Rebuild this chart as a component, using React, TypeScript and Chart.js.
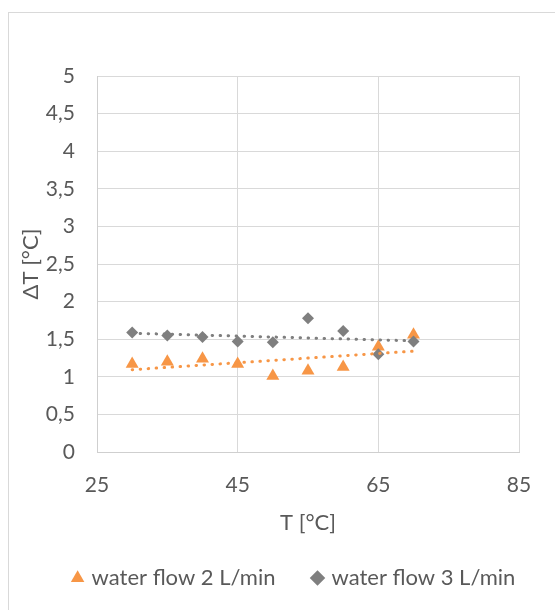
import React, { useEffect, useRef } from "react";
import { Chart, registerables } from "chart.js";

Chart.register(...registerables);

const temperatures = [30, 35, 40, 45, 50, 55, 60, 65, 70];
const flow2DeltaT = [1.17, 1.2, 1.24, 1.17, 1.01, 1.08, 1.13, 1.4, 1.56];
const flow3DeltaT = [1.59, 1.55, 1.53, 1.47, 1.46, 1.78, 1.61, 1.3, 1.47];
const seriesLabels = ["water flow 2 L/min", "water flow 3 L/min"];
const xAxisTitle = "T [°C]";
const yAxisTitle = "ΔT [°C]";
const xMin = 25;
const xMax = 85;
const xStep = 20;
const yMin = 0;
const yMax = 5;
const yStep = 0.5;

const ORANGE = "#F79646";
const GRAY = "#7F7F7F";
const TEXT = "#595959";
const GRID = "#D9D9D9";
const FONT = "Lato, 'Open Sans', sans-serif";

const W = 555;
const H = 610;
const PAD_L = 35;
const PAD_R = 0;
const PAD_T = 76;
const PAD_B = 11;
const AREA_LEFT = 97;
const AREA_RIGHT = 519;
const AREA_BOTTOM = 452;
const TICK_FS = 21;
const TITLE_FS = 22;
const LEG_FS = 22;
const LEG_PAD = 39;

function linearTrend(xs: number[], ys: number[]) {
  const n = xs.length;
  const mx = xs.reduce((a, b) => a + b, 0) / n;
  const my = ys.reduce((a, b) => a + b, 0) / n;
  let sxy = 0;
  let sxx = 0;
  for (let i = 0; i < n; i++) {
    sxy += (xs[i] - mx) * (ys[i] - my);
    sxx += (xs[i] - mx) * (xs[i] - mx);
  }
  const slope = sxy / sxx;
  const x0 = Math.min(...xs);
  const x1 = Math.max(...xs);
  return [
    { x: x0, y: my + slope * (x0 - mx) },
    { x: x1, y: my + slope * (x1 - mx) },
  ];
}

const toPoints = (xs: number[], ys: number[]) => xs.map((x, i) => ({ x, y: ys[i] }));

const frame = {
  id: "frame",
  beforeDraw(chart: any) {
    const ctx = chart.ctx;
    ctx.save();
    ctx.fillStyle = "#FFFFFF";
    ctx.fillRect(0, 0, chart.width, chart.height);
    ctx.strokeStyle = GRID;
    ctx.lineWidth = 1;
    ctx.strokeRect(8.5, 12.5, 600, 700);
    ctx.restore();
  },
};

export default function App() {
  const ref = useRef<HTMLCanvasElement | null>(null);

  useEffect(() => {
    if (!ref.current) return;
    const titleLH = TITLE_FS * 1.2;
    const chart = new Chart(ref.current, {
      type: "scatter",
      data: {
        datasets: [
          {
            label: seriesLabels[0],
            data: toPoints(temperatures, flow2DeltaT),
            pointStyle: "triangle",
            pointRadius: 7.5,
            pointHoverRadius: 7.5,
            backgroundColor: ORANGE,
            borderColor: ORANGE,
            borderWidth: 0,
            showLine: false,
            order: 2,
          },
          {
            label: seriesLabels[1],
            data: toPoints(temperatures, flow3DeltaT),
            pointStyle: "rectRot",
            pointRadius: 6,
            pointHoverRadius: 6,
            backgroundColor: GRAY,
            borderColor: GRAY,
            borderWidth: 0,
            showLine: false,
            order: 1,
          },
          {
            label: "trend2",
            data: linearTrend(temperatures, flow2DeltaT),
            showLine: true,
            borderColor: ORANGE,
            backgroundColor: ORANGE,
            borderWidth: 3,
            borderDash: [0.5, 7.5],
            borderCapStyle: "round",
            pointRadius: 0,
            fill: false,
            order: 0,
          },
          {
            label: "trend3",
            data: linearTrend(temperatures, flow3DeltaT),
            showLine: true,
            borderColor: GRAY,
            backgroundColor: GRAY,
            borderWidth: 3,
            borderDash: [0.5, 7.5],
            borderCapStyle: "round",
            pointRadius: 0,
            fill: false,
            order: 0,
          },
        ] as any,
      },
      options: {
        responsive: false,
        animation: false,
        devicePixelRatio: 1,
        layout: { padding: { left: PAD_L, right: PAD_R, top: PAD_T, bottom: PAD_B } },
        plugins: {
          tooltip: { enabled: false },
          legend: {
            position: "bottom",
            labels: {
              usePointStyle: true,
              boxWidth: 6,
              boxHeight: 11,
              padding: LEG_PAD,
              color: TEXT,
              font: { family: FONT, size: LEG_FS },
              filter: (item: any) => item.datasetIndex < 2,
              sort: (a: any, b: any) => a.datasetIndex - b.datasetIndex,
            },
          },
        },
        scales: {
          x: {
            type: "linear",
            position: "bottom",
            min: xMin,
            max: xMax,
            ticks: { stepSize: xStep, padding: 21, color: TEXT, font: { family: FONT, size: TICK_FS } },
            grid: { color: GRID, drawTicks: false },
            border: { color: "#CFCFCF" },
            title: {
              display: true,
              text: xAxisTitle,
              color: TEXT,
              font: { family: FONT, size: TITLE_FS },
              padding: { top: 0, bottom: 0 },
            },
            afterFit: (scale: any) => {
              const legH = scale.chart.legend ? scale.chart.legend.height : 0;
              scale.height = H - PAD_B - legH - AREA_BOTTOM;
              const xBottom = H - PAD_B - legH;
              scale.options.title.padding = { top: 0, bottom: xBottom - 523 - titleLH / 2 };
            },
          },
          y: {
            type: "linear",
            min: yMin,
            max: yMax,
            ticks: {
              stepSize: yStep,
              padding: 22,
              color: TEXT,
              font: { family: FONT, size: TICK_FS },
              callback: (v: any) => String(v).replace(".", ","),
            },
            grid: { color: GRID, drawTicks: false },
            border: { color: "#CFCFCF" },
            title: {
              display: true,
              text: yAxisTitle,
              color: TEXT,
              font: { family: FONT, size: TITLE_FS },
              padding: { top: 31 - PAD_L - titleLH / 2, bottom: 0 },
            },
            afterFit: (scale: any) => {
              scale.width = AREA_LEFT - PAD_L;
            },
          },
          spacer: {
            type: "linear",
            position: "right",
            display: true,
            grid: { display: false, drawOnChartArea: false, drawTicks: false },
            border: { display: false },
            ticks: { display: false },
            afterFit: (scale: any) => {
              scale.width = W - PAD_R - AREA_RIGHT;
            },
          },
        },
      },
      plugins: [frame],
    } as any);
    return () => chart.destroy();
  }, []);

  return (
    <div style={{ position: "fixed", left: 0, top: 0, width: W, height: H }}>
      <canvas ref={ref} width={W} height={H} style={{ display: "block" }} />
    </div>
  );
}
